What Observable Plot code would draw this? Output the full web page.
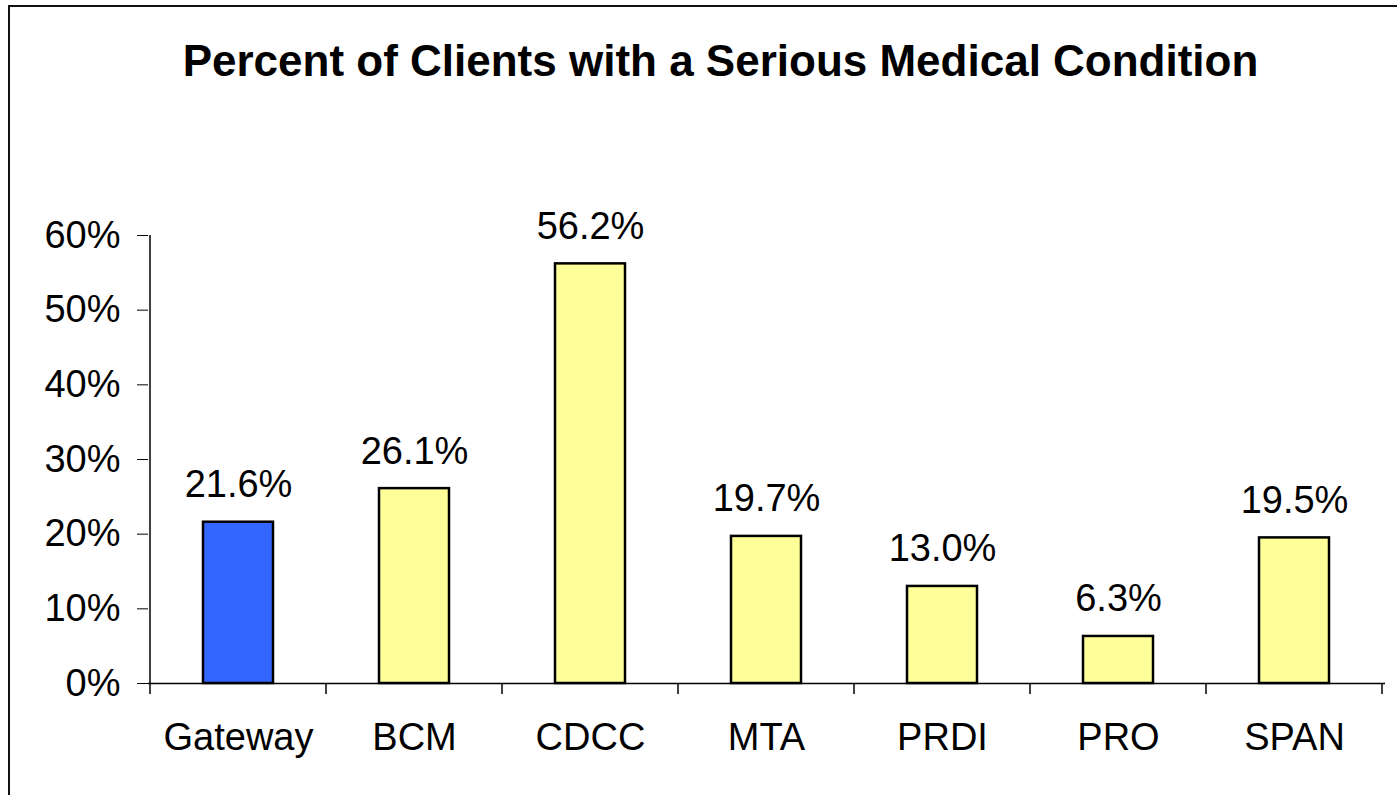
<!DOCTYPE html>
<html>
<head>
<meta charset="utf-8">
<script src="https://cdn.jsdelivr.net/npm/d3@7"></script>
<script src="https://cdn.jsdelivr.net/npm/@observablehq/plot@0.6"></script>
<style>
  html, body { margin: 0; padding: 0; background: #fff; overflow: hidden; }
  #wrap { position: relative; width: 1397px; height: 795px; font-family: "Liberation Sans", Arial, sans-serif; }
  #title { height: 120px; box-sizing: border-box; padding-top: 36px; padding-left: 44px; width: 1397px;
           text-align: center; font-weight: bold; font-size: 44px; line-height: normal; color: #000; }
  #frame { position: absolute; left: 8px; top: 5px; width: 3000px; height: 3000px;
           border-top: 2px solid #111; border-left: 2px solid #111; pointer-events: none; z-index: 2; }
</style>
</head>
<body>
<div id="wrap">
  <div id="frame"></div>
  <div id="title">Percent of Clients with a Serious Medical Condition</div>
  <div id="chart"></div>
</div>
<script>
const categories = ["Gateway", "BCM", "CDCC", "MTA", "PRDI", "PRO", "SPAN"];
const values = [0.216, 0.261, 0.562, 0.197, 0.130, 0.063, 0.195];
const yTicks = [0, 0.1, 0.2, 0.3, 0.4, 0.5, 0.6];
const highlight = "Gateway";

const data = categories.map((c, i) => ({name: c, value: values[i]}));
const fmtLabel = d3.format(".1%");

const chart = Plot.plot({
  width: 1397,
  height: 675,
  marginTop: 115,
  marginBottom: 112,
  marginLeft: 148,
  marginRight: 12,
  style: {background: "transparent", fontFamily: "Liberation Sans, Arial, sans-serif", color: "#000"},
  x: {domain: categories, paddingInner: 0.6, paddingOuter: 0.3, label: null},
  y: {domain: [0, 0.6], label: null},
  marks: [
    Plot.barY(data, {
      x: "name", y: "value",
      fill: d => d.name === highlight ? "#3366FF" : "#FFFF99",
      stroke: "#000", strokeWidth: 2.5
    }),
    Plot.text(data, {
      x: "name", y: "value", text: d => fmtLabel(d.value),
      lineAnchor: "bottom", dy: -25, fontSize: 38, fill: "#000"
    }),
    Plot.ruleY([0], {stroke: "#000", strokeWidth: 1.5}),
    Plot.axisY({ticks: yTicks, tickFormat: d3.format(".0%"), tickSize: 11, tickPadding: 17,
                fontSize: 38, label: null, stroke: "#000"}),
    Plot.axisX({tickSize: 0, tickPadding: 40, fontSize: 38, label: null})
  ]
});
document.getElementById("chart").appendChild(chart);

// axis line and category boundary ticks, positioned from the chart's own scales
const xs = chart.scale("x");
const ys = chart.scale("y");
const svg = d3.select(chart);
const y0 = ys.apply(0);
const yTop = ys.apply(0.6);
const gap = (xs.step - xs.bandwidth) / 2;
const bounds = categories.map(c => xs.apply(c) - gap);
bounds.push(xs.apply(categories[categories.length - 1]) + xs.bandwidth + gap);
const g = svg.append("g").attr("stroke", "#000").attr("stroke-width", 1.5);
g.append("line").attr("x1", bounds[0]).attr("x2", bounds[0]).attr("y1", yTop).attr("y2", y0);
g.selectAll("line.bt").data(bounds).join("line").attr("class", "bt")
  .attr("x1", d => d).attr("x2", d => d).attr("y1", y0).attr("y2", y0 + 11);
</script>
</body>
</html>
